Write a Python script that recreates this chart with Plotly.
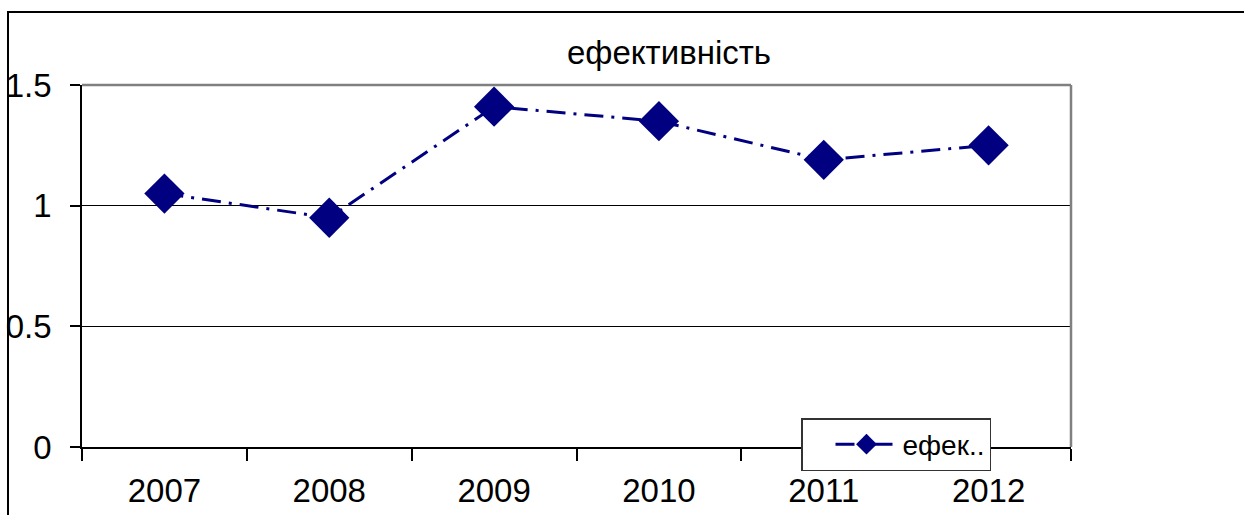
import plotly.graph_objects as go

# Data
years = ["2007", "2008", "2009", "2010", "2011", "2012"]
efficiency = [1.05, 0.95, 1.41, 1.35, 1.19, 1.25]
series_name = "ефек.."
chart_title = "ефективність"
y_ticks = [0, 0.5, 1, 1.5]
y_tick_text = ["0", "0.5", "1", "1.5"]

NAVY = "#000080"
FONT = "Liberation Sans, Arial, sans-serif"

fig = go.Figure()

# Dash-dot line with diamond markers
fig.add_trace(go.Scatter(
    x=years, y=efficiency, name=series_name,
    mode="lines+markers",
    line=dict(color=NAVY, width=3, dash="19px,8px,3px,8px"),
    marker=dict(symbol="diamond", size=31, color=NAVY),
))

fig.update_layout(
    width=1244, height=515,
    margin=dict(l=82, r=173, t=85, b=68),
    paper_bgcolor="white", plot_bgcolor="white",
    font=dict(family=FONT, color="black", size=33),
    title=dict(text=chart_title, x=(669 - 82) / 989, xref="paper", xanchor="center",
               y=1 - 52 / 515, yanchor="middle", automargin=False,
               font=dict(family=FONT, size=33, color="black")),
    showlegend=True,
    legend=dict(x=(801 - 82) / 989, y=(447 - 418) / 362, xanchor="left", yanchor="top",
                bgcolor="white", bordercolor="#333", borderwidth=1.5,
                font=dict(family=FONT, size=28, color="black"),
                itemwidth=62, indentation=28, tracegroupgap=0),
    shapes=[
        # outer chart frame
        dict(type="rect", xref="paper", yref="paper",
             x0=(8 - 82) / 989, x1=1.6, y0=-1.0, y1=(447 - 12) / 362,
             line=dict(color="black", width=2), layer="below"),
        # plot area border (top and right)
        dict(type="line", xref="paper", yref="paper", x0=0, x1=1, y0=1, y1=1,
             line=dict(color="#808080", width=2.5)),
        dict(type="line", xref="paper", yref="paper", x0=1, x1=1, y0=0, y1=1,
             line=dict(color="#808080", width=2.5)),
    ],
)

fig.update_xaxes(
    type="category", tickson="boundaries", automargin=False,
    range=[-0.5, len(years) - 0.5],
    showline=True, linecolor="black", linewidth=1.5,
    ticks="outside", ticklen=12, tickcolor="black", tickwidth=1.5,
    showgrid=False, zeroline=False, ticklabelstandoff=14,
    tickfont=dict(family=FONT, size=33, color="black"),
)
fig.update_yaxes(
    range=[0, 1.5], tickvals=y_ticks, ticktext=y_tick_text, automargin=False,
    showline=True, linecolor="black", linewidth=1.5,
    ticks="outside", ticklen=10, tickcolor="black", tickwidth=1.5,
    showgrid=True, gridcolor="black", gridwidth=1.2, zeroline=False,
    ticklabelstandoff=12,
    tickfont=dict(family=FONT, size=33, color="black"),
)

fig.write_html("out.html")
